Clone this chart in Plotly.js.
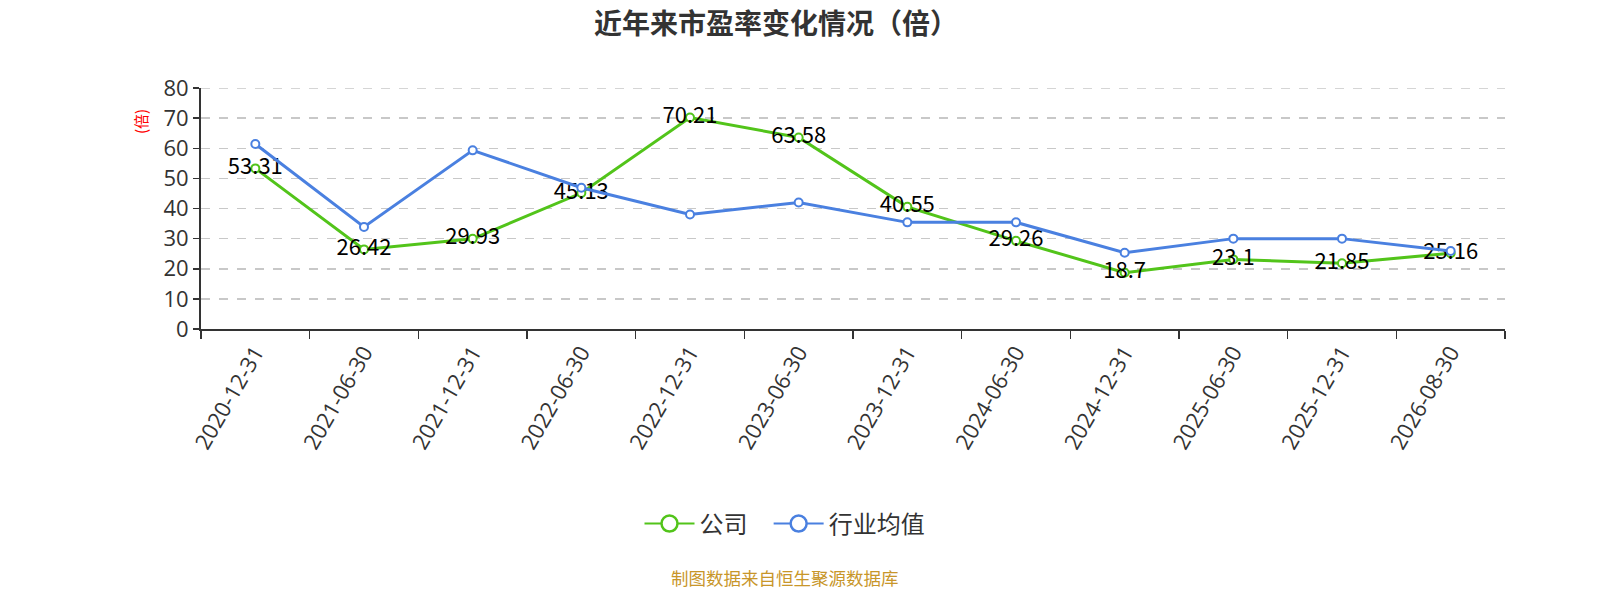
<!DOCTYPE html>
<html>
<head>
<meta charset="utf-8">
<script src="https://cdn.plot.ly/plotly-3.0.1.min.js"></script>
<style>
  html, body { margin: 0; padding: 0; background: #fff; }
  #chart { width: 1600px; height: 600px; }
</style>
</head>
<body>
<div id="chart"></div>
<script>
"use strict";

var dates = ["2020-12-31", "2021-06-30", "2021-12-31", "2022-06-30", "2022-12-31", "2023-06-30",
             "2023-12-31", "2024-06-30", "2024-12-31", "2025-06-30", "2025-12-31", "2026-08-30"];
var companyPE = [53.31, 26.42, 29.93, 45.13, 70.21, 63.58, 40.55, 29.26, 18.7, 23.1, 21.85, 25.16];
var industryPE = [61.4, 33.9, 59.3, 46.9, 38.0, 42.0, 35.4, 35.4, 25.3, 30.0, 30.0, 25.9];
var yTicks = [0, 10, 20, 30, 40, 50, 60, 70, 80];

var cjk = "'Noto Sans CJK SC', 'Microsoft YaHei', sans-serif";
var num = "'Open Sans', 'Noto Sans CJK SC', sans-serif";
var green = "#52c41a";
var blue = "#4a80e0";

var company = {
    x: dates,
    y: companyPE,
    name: "公司",
    type: "scatter",
    mode: "lines+markers+text",
    text: companyPE.map(function (v) { return String(v); }),
    textposition: "middle center",
    textfont: { family: cjk, size: 22, color: "#000" },
    line: { color: green, width: 3 },
    marker: { symbol: "circle", size: 8, color: "#fff", line: { color: green, width: 2 } },
    showlegend: false,
    cliponaxis: false
};

var industry = {
    x: dates,
    y: industryPE,
    name: "行业均值",
    type: "scatter",
    mode: "lines+markers",
    line: { color: blue, width: 3 },
    marker: { symbol: "circle", size: 8, color: "#fff", line: { color: blue, width: 2 } },
    showlegend: false,
    cliponaxis: false
};

// legend-only entries with the bigger legend circles
function legendEntry(name, color) {
    return {
        x: [null], y: [null],
        name: name,
        type: "scatter",
        mode: "lines+markers",
        line: { color: color, width: 2 },
        marker: { symbol: "circle", size: 23, color: "#fff", line: { color: color, width: 2.5 } }
    };
}

var layout = {
    width: 1600,
    height: 600,
    margin: { l: 201, r: 95, t: 88, b: 271 },
    paper_bgcolor: "#fff",
    plot_bgcolor: "#fff",
    font: { family: cjk, color: "#333" },
    title: {
        text: "<b>近年来市盈率变化情况（倍）</b>",
        x: 776 / 1600, xanchor: "center",
        y: 1 - 24 / 600, yanchor: "middle", yref: "container",
        font: { family: cjk, size: 28, color: "#333" }
    },
    xaxis: {
        type: "category",
        range: [-0.5, dates.length - 0.5],
        tickson: "boundaries",
        ticks: "outside",
        ticklen: 8,
        tickcolor: "#333",
        tickwidth: 1.5,
        showline: true,
        linecolor: "#333",
        linewidth: 2,
        showgrid: false,
        zeroline: false,
        tickangle: -60,
        tickfont: { family: num, size: 22, color: "#333" }
    },
    yaxis: {
        range: [0, 80],
        tickvals: yTicks,
        ticks: "outside",
        ticklen: 6,
        tickcolor: "#333",
        tickwidth: 1.5,
        showline: true,
        linecolor: "#333",
        linewidth: 2,
        showgrid: true,
        gridcolor: "#c8c8c8",
        griddash: "dash",
        gridwidth: 1.5,
        zeroline: false,
        tickfont: { family: num, size: 22, color: "#333" }
    },
    // top grid line at 80, which plotly leaves out at the range edge
    shapes: [{
        type: "line", xref: "paper", yref: "y",
        x0: 0, x1: 1, y0: 80, y1: 80,
        line: { color: "#c8c8c8", width: 1.5, dash: "dash" }
    }],
    legend: {
        orientation: "h",
        x: (785 - 201) / 1304, xanchor: "center",
        y: (329 - 524) / 241, yanchor: "middle",
        font: { family: cjk, size: 24, color: "#333" },
        itemwidth: 50
    },
    annotations: [{
        text: "(倍)",
        xref: "paper", yref: "paper",
        x: (140 - 201) / 1304, y: (329 - 122) / 241,
        xanchor: "center", yanchor: "middle",
        textangle: -90,
        showarrow: false,
        font: { family: cjk, size: 15, color: "#ff0000" }
    }, {
        text: "制图数据来自恒生聚源数据库",
        xref: "paper", yref: "paper",
        x: (785 - 201) / 1304, y: (329 - 577) / 241,
        xanchor: "center", yanchor: "middle",
        showarrow: false,
        font: { family: cjk, size: 17.5, color: "#c8962a" }
    }]
};

Plotly.newPlot("chart", [company, industry, legendEntry("公司&nbsp;&nbsp;&nbsp;", green), legendEntry("行业均值", blue)],
    layout, { displayModeBar: false, staticPlot: true });
</script>
</body>
</html>
